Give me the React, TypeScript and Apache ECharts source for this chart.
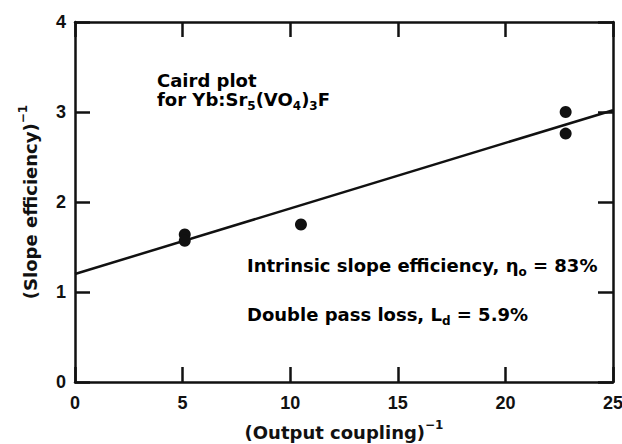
import React, { useEffect, useRef } from "react";
import * as echarts from "echarts";

const measuredX = [5.1, 5.1, 10.5, 22.8, 22.8];
const measuredY = [1.64, 1.57, 1.75, 3.0, 2.76];
const fitX = [0, 25];
const fitY = [1.2, 3.02];
const xTicks = [0, 5, 10, 15, 20, 25];
const yTicks = [0, 1, 2, 3, 4];

const FONT = "DejaVu Sans";
const TICK_FONT = "Liberation Sans";

export default function App() {
  const ref = useRef<HTMLDivElement>(null);
  useEffect(() => {
    if (!ref.current) return;
    const chart = echarts.init(ref.current, null, { renderer: "svg" });
    const baseRich = {
      m: { fontFamily: FONT, fontWeight: "bold", fontSize: 18, color: "#111", lineHeight: 26, verticalAlign: "middle" },
      sub: { fontFamily: FONT, fontWeight: "bold", fontSize: 12, color: "#111", lineHeight: 26, verticalAlign: "bottom" },
      sup: { fontFamily: FONT, fontWeight: "bold", fontSize: 12, color: "#111", lineHeight: 26, verticalAlign: "top" },
    };
    const axisLine = { show: true, onZero: false, lineStyle: { color: "#111", width: 2.5 } };
    const axisTick = { show: true, inside: true, length: 15, lineStyle: { color: "#111", width: 2.5 } };
    chart.setOption({
      animation: false,
      backgroundColor: "#fff",
      grid: { left: 75, top: 22, right: 9, bottom: 62, outerBoundsMode: "none", containLabel: false },
      xAxis: [
        {
          type: "value",
          min: xTicks[0],
          max: xTicks[xTicks.length - 1],
          interval: 5,
          position: "bottom",
          axisLine,
          axisTick,
          splitLine: { show: false },
          axisLabel: { color: "#111", fontFamily: TICK_FONT, fontWeight: "bold", fontSize: 18, margin: 12 },
          name: "{m|(Output coupling)}{sup|−1}",
          nameLocation: "middle",
          nameGap: 37,
          nameTextStyle: { rich: baseRich },
        },
        {
          type: "value",
          min: xTicks[0],
          max: xTicks[xTicks.length - 1],
          interval: 5,
          position: "top",
          axisLine,
          axisTick,
          splitLine: { show: false },
          axisLabel: { show: false },
        },
      ],
      yAxis: [
        {
          type: "value",
          min: yTicks[0],
          max: yTicks[yTicks.length - 1],
          interval: 1,
          position: "left",
          axisLine,
          axisTick,
          splitLine: { show: false },
          axisLabel: { color: "#111", fontFamily: TICK_FONT, fontWeight: "bold", fontSize: 18, margin: 9 },
          name: "{m|(Slope efficiency)}{sup|−1}",
          nameLocation: "middle",
          nameRotate: 90,
          nameGap: 32,
          nameTextStyle: { rich: baseRich },
        },
        {
          type: "value",
          min: yTicks[0],
          max: yTicks[yTicks.length - 1],
          interval: 1,
          position: "right",
          axisLine,
          axisTick,
          splitLine: { show: false },
          axisLabel: { show: false },
        },
      ],
      series: [
        {
          type: "line",
          data: fitX.map((x, i) => [x, fitY[i]]),
          showSymbol: false,
          lineStyle: { color: "#111", width: 2.5 },
          z: 2,
        },
        {
          type: "scatter",
          data: measuredX.map((x, i) => [x, measuredY[i]]),
          symbol: "circle",
          symbolSize: 12,
          itemStyle: { color: "#111", opacity: 1 },
          z: 3,
        },
      ],
      graphic: [
        { type: "text", left: 157, top: 71, style: { text: "{m|Caird plot}", rich: baseRich } },
        {
          type: "text",
          left: 157,
          top: 90,
          style: { text: "{m|for Yb:Sr}{sub|5}{m|(VO}{sub|4}{m|)}{sub|3}{m|F}", rich: baseRich },
        },
        {
          type: "text",
          left: 247,
          top: 256,
          style: { text: "{m|Intrinsic slope efficiency, η}{sub|o}{m| = 83%}", rich: baseRich },
        },
        {
          type: "text",
          left: 247,
          top: 305,
          style: { text: "{m|Double pass loss, L}{sub|d}{m| = 5.9%}", rich: baseRich },
        },
      ],
    });
    return () => chart.dispose();
  }, []);
  return (
    <div
      ref={ref}
      style={{ position: "fixed", left: 0, top: 0, width: 622, height: 444, background: "#fff" }}
    />
  );
}
